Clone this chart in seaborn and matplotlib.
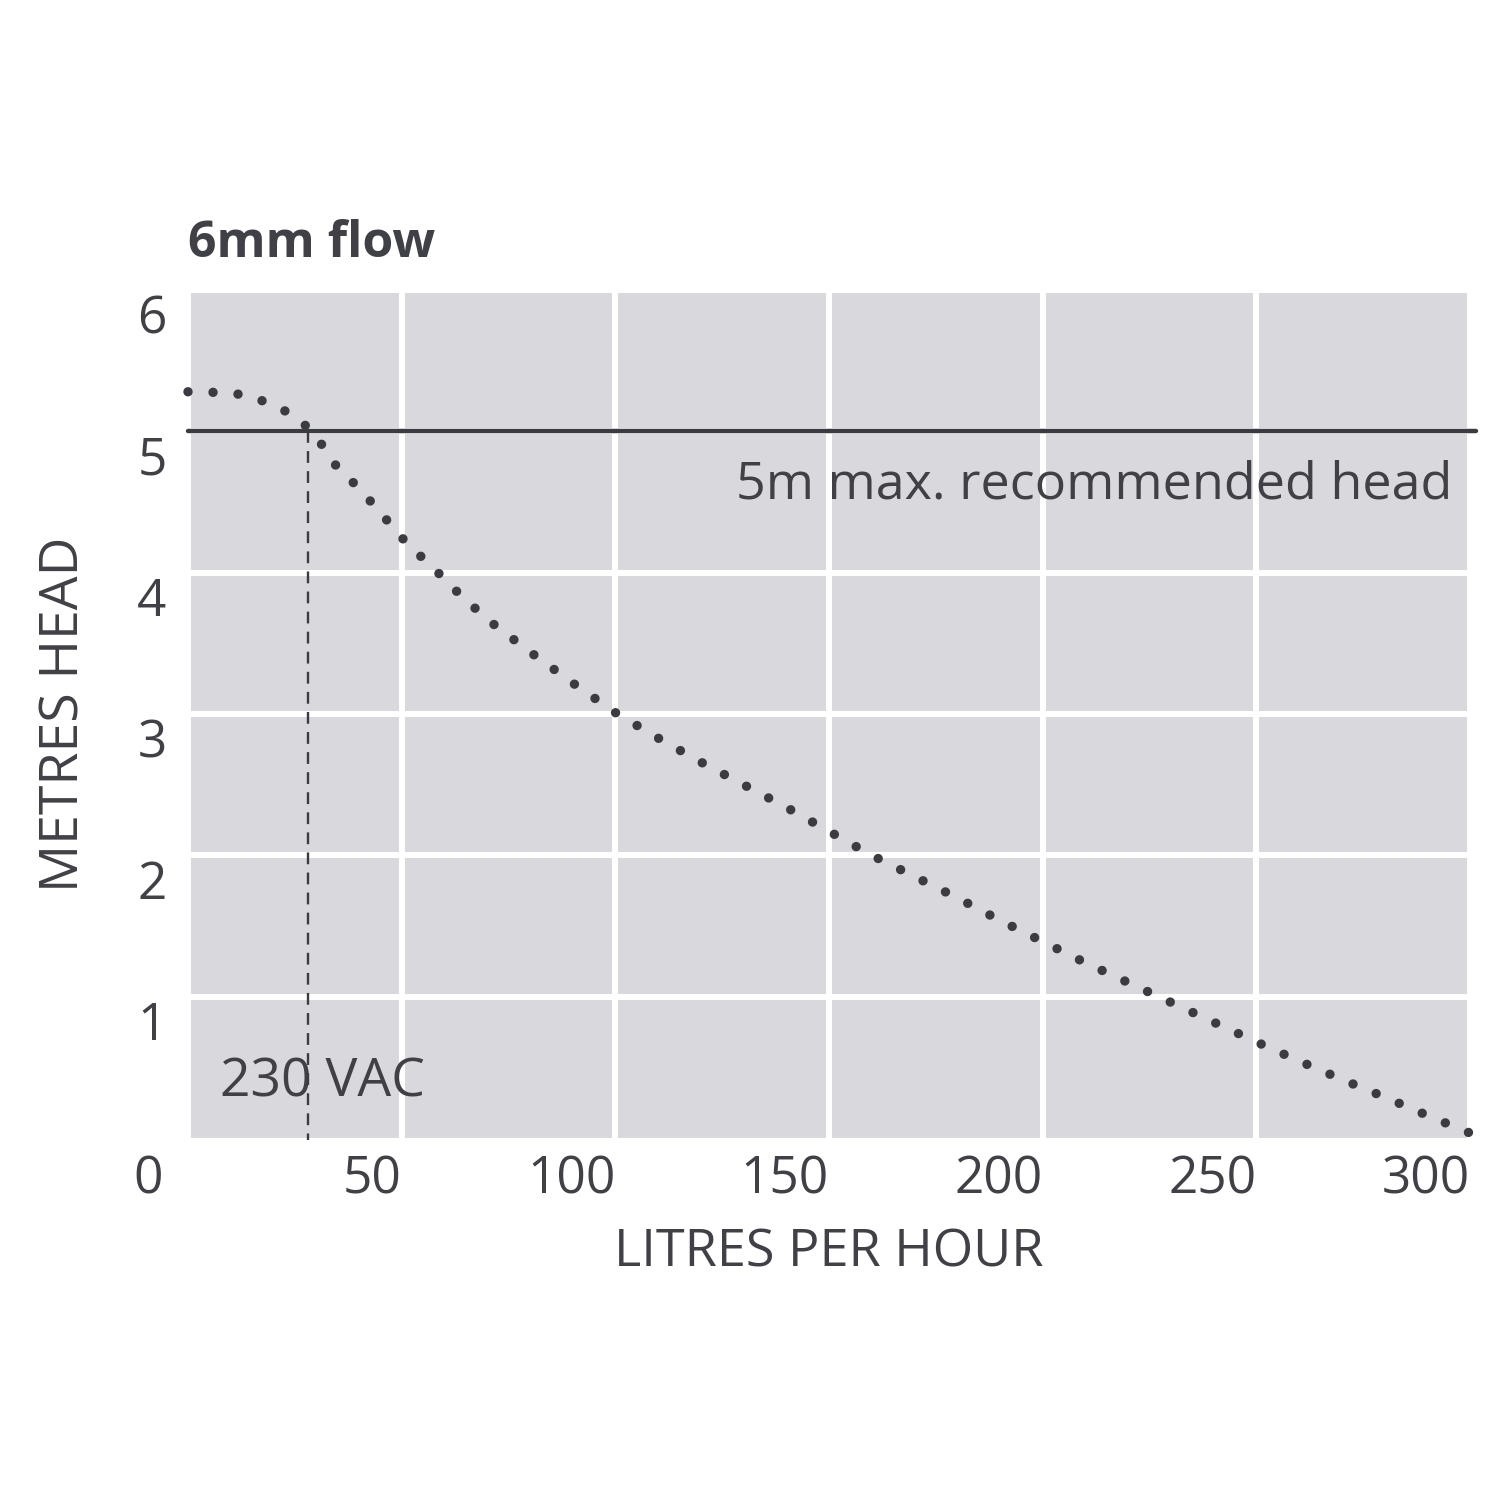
import matplotlib
matplotlib.use("Agg")
import matplotlib.pyplot as plt
from matplotlib.transforms import ScaledTranslation
import seaborn as sns
import pandas as pd

# ---- data ----
flow_lph = [0, 7, 13, 18, 23, 28, 32, 35, 40, 44, 48, 52, 57, 61, 70, 80, 90,
            100, 110, 120, 130, 140, 150, 160, 170, 180, 190, 200, 210, 220,
            230, 240, 250, 260, 270, 280, 290, 300]
head_m = [5.28, 5.275, 5.26, 5.21, 5.14, 5.03, 4.88, 4.74, 4.60, 4.46, 4.32,
          4.18, 4.05, 3.92, 3.67, 3.44, 3.22, 3.01, 2.83, 2.66, 2.50, 2.34,
          2.17, 2.00, 1.85, 1.70, 1.54, 1.39, 1.24, 1.10, 0.96, 0.82, 0.68,
          0.545, 0.415, 0.29, 0.16, 0.035]
max_head = 5
max_head_flow = 28
x_ticks = [0, 50, 100, 150, 200, 250, 300]
x_tick_labels = ["0", "50", "100", "150", "200", "250", "300"]
y_ticks = [1, 2, 3, 4, 5, 6]
y_tick_labels = ["1", "2", "3", "4", "5", "6"]
title = "6mm flow"
x_label = "LITRES PER HOUR"
y_label = "METRES HEAD"
max_label = "5m max. recommended head"
voltage_label = "230 VAC"

TEXT = "#404047"
DARK = "#3b3b42"
BG = "#d9d8dc"

sns.set_theme(style="whitegrid")
plt.rcParams["font.family"] = ["Open Sans", "DejaVu Sans"]

fig = plt.figure(figsize=(15, 15), dpi=100)
ax = fig.add_axes([188 / 1500, 1 - 1138 / 1500, (1470 - 188) / 1500, (1138 - 290) / 1500])
ax.set_facecolor(BG)
for s in ax.spines.values():
    s.set_visible(False)

ax.set_xlim(0, 300)
ax.set_ylim(0, 6)
ax.set_xticks(x_ticks)
ax.set_xticklabels(x_tick_labels)
ax.set_yticks(y_ticks)
ax.set_yticklabels(y_tick_labels)
ax.grid(True, color="white", linewidth=4.3)
ax.set_axisbelow(True)
ax.tick_params(axis="both", length=0, labelsize=37, labelcolor=TEXT)
ax.tick_params(axis="x", pad=12)
ax.tick_params(axis="y", pad=26)

for lbl in ax.get_xticklabels():
    lbl.set_ha("right")
    if lbl.get_text() == "0":
        lbl.set_transform(lbl.get_transform() + ScaledTranslation(-0.25, 0, fig.dpi_scale_trans))
for lbl in ax.get_yticklabels():
    lbl.set_ha("center")
    lbl.set_transform(lbl.get_transform() + ScaledTranslation(0, -0.24, fig.dpi_scale_trans))

df = pd.DataFrame({"flow": flow_lph, "head": head_m})
sns.lineplot(data=df, x="flow", y="head", ax=ax, color=DARK, linewidth=6.8,
             linestyle=(0, (0.001, 2.65)), dash_capstyle="round", zorder=4,
             clip_on=False)

ax.axhline(max_head, xmin=0, xmax=1.005, color=DARK, linewidth=3.2, clip_on=False, zorder=3)
ax.plot([max_head_flow, max_head_flow], [max_head, -0.015], color=DARK, linewidth=1.7,
        linestyle=(0, (5, 3.5)), clip_on=False, zorder=3)

ax.text(295.8, 4.62, max_label, ha="right", va="center", fontsize=37.5, color=TEXT)
ax.text(7.5, 0.39, voltage_label, ha="left", va="center", fontsize=38.5, color=TEXT, zorder=2)

ax.set_title(title, loc="left", fontsize=36, fontweight="bold", color=TEXT, pad=24)
ax.set_xlabel(x_label, fontsize=37.5, color=TEXT, labelpad=16)
ax.set_ylabel(y_label, fontsize=38.5, color=TEXT, labelpad=33)

fig.savefig("out.png", dpi=100, facecolor="white")
